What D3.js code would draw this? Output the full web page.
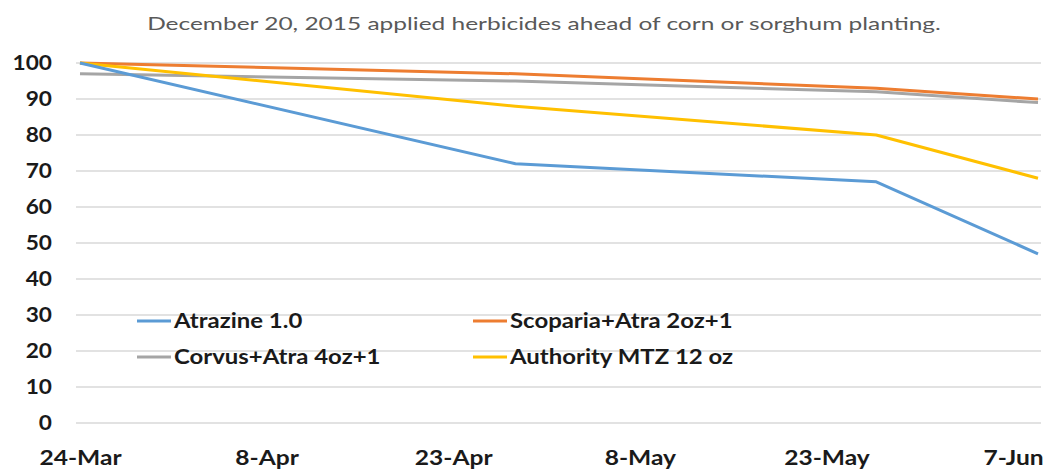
<!DOCTYPE html>
<html><head><meta charset="utf-8">
<script src="https://cdn.jsdelivr.net/npm/d3@7"></script>
<style>body{margin:0;background:#fff}</style>
</head><body>
<svg id="c" width="1059" height="470"></svg>
<script>
const dates = ["2016-03-24","2016-04-28","2016-05-27","2016-06-09"];
const seriesNames = ["Atrazine 1.0","Scoparia+Atra 2oz+1","Corvus+Atra 4oz+1","Authority MTZ 12 oz"];
const atrazine = [100,72,67,47];
const scoparia = [100,97,93,90];
const corvus = [97,95,92,89];
const authority = [100,88,80,68];
const seriesColors = ["#5B9BD5","#ED7D31","#A5A5A5","#FFC000"];
const tickDates = ["2016-03-24","2016-04-08","2016-04-23","2016-05-08","2016-05-23","2016-06-07"];
const yTicks = [0,10,20,30,40,50,60,70,80,90,100];
const title = "December 20, 2015 applied herbicides ahead of corn or sorghum planting.";

const parse = d3.timeParse("%Y-%m-%d");
const fmt = d3.timeFormat("%-d-%b");
const svg = d3.select("#c");
const x = d3.scaleTime().domain([parse("2016-03-24"), parse("2016-06-09")]).range([80,1038]);
const y = d3.scaleLinear().domain([0,100]).range([423,63]);
const font = "Lato, 'Open Sans', sans-serif";
const ink = "#1a1a1a";

svg.append("text").attr("transform","translate(544,30) scale(1.36,1)").attr("text-anchor","middle")
  .attr("font-family",font).attr("font-size",18).attr("fill","#595959").text(title);

// gridlines
svg.append("g").selectAll("line").data(yTicks).join("line")
  .attr("x1",76).attr("x2",1041).attr("y1",d=>y(d)).attr("y2",d=>y(d))
  .attr("stroke","#d9d9d9").attr("stroke-width",1.3);

// y axis labels
const yAxis = d3.axisLeft(y).tickValues(yTicks).tickSize(0).tickPadding(0);
const gy = svg.append("g").attr("transform","translate(52,0)").call(yAxis);
gy.select(".domain").remove();
gy.selectAll("text").attr("font-family",font).attr("font-size",21).attr("font-weight","bold")
  .attr("fill",ink).attr("transform","scale(1.08,1)");

// x axis labels
const xAxis = d3.axisBottom(x).tickValues(tickDates.map(parse)).tickFormat(fmt).tickSize(0).tickPadding(0);
const gx = svg.append("g").attr("transform","translate(0,450)").call(xAxis);
gx.select(".domain").remove();
gx.selectAll("text").attr("font-family",font).attr("font-size",21).attr("font-weight","bold")
  .attr("fill",ink).attr("transform","scale(1.17,1)");

const allSeries = [atrazine, scoparia, corvus, authority];
const line = d3.line().x((d,i)=>x(parse(dates[i]))).y(d=>y(d));
const order = [2,1,3,0];
order.forEach(k=>{
  svg.append("path").datum(allSeries[k]).attr("d",line)
    .attr("fill","none").attr("stroke",seriesColors[k]).attr("stroke-width",3)
    .attr("stroke-linejoin","round");
});

// legend
const legendPos = [[137,321],[473,321],[137,357],[473,357]];
seriesNames.forEach((n,i)=>{
  const [lx,ly] = legendPos[i];
  svg.append("line").attr("x1",lx).attr("x2",lx+34).attr("y1",ly).attr("y2",ly)
    .attr("stroke",seriesColors[i]).attr("stroke-width",3);
  svg.append("text").attr("transform",`translate(${lx+37},${ly}) scale(1.14,1)`).attr("dy","0.35em")
    .attr("font-family",font).attr("font-size",21).attr("font-weight","bold").attr("fill",ink).text(n);
});
</script>
</body></html>
